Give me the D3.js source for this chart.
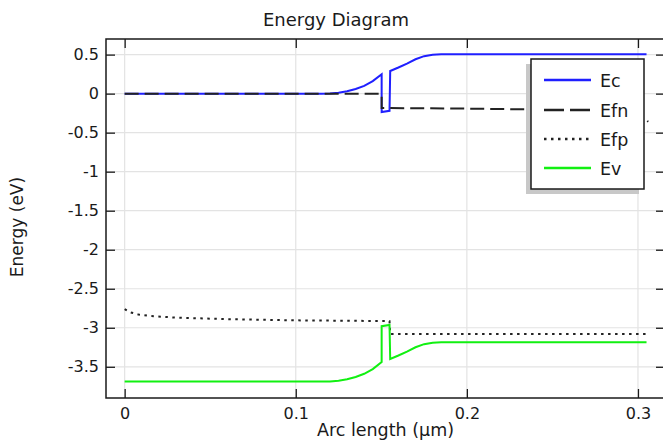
<!DOCTYPE html>
<html>
<head>
<meta charset="utf-8">
<script src="https://cdn.jsdelivr.net/npm/d3@7"></script>
<style>
  body { margin: 0; background: #fff; }
  svg { display: block; font-family: "DejaVu Sans", sans-serif; }
</style>
</head>
<body>
<svg id="chart" width="663" height="442"></svg>
<script>
// arc length (um) and energy (eV), one pair of arrays per curve
var ecX = [0, 0.05, 0.1, 0.115, 0.12, 0.125, 0.13, 0.135, 0.14, 0.145, 0.1502, 0.1502, 0.1548, 0.1552, 0.16, 0.165, 0.17, 0.175, 0.18, 0.185, 0.2, 0.25, 0.305];
var ecY = [0, 0, 0, 0, 0.003, 0.012, 0.03, 0.06, 0.1, 0.16, 0.248, -0.235, -0.22, 0.29, 0.335, 0.385, 0.44, 0.48, 0.498, 0.504, 0.505, 0.505, 0.505];

var efnX = [0, 0.05, 0.1, 0.1502, 0.1502, 0.155, 0.2, 0.25, 0.28, 0.295, 0.301, 0.306];
var efnY = [0, 0, 0, 0, -0.185, -0.185, -0.192, -0.205, -0.22, -0.235, -0.26, -0.36];

var efpX = [0, 0.003, 0.008, 0.015, 0.03, 0.06, 0.1, 0.13, 0.1548, 0.1552, 0.2, 0.25, 0.305];
var efpY = [-2.76, -2.8, -2.83, -2.85, -2.87, -2.89, -2.905, -2.91, -2.915, -3.08, -3.08, -3.08, -3.08];

var evX = [0, 0.05, 0.1, 0.115, 0.12, 0.125, 0.13, 0.135, 0.14, 0.145, 0.1502, 0.1502, 0.1548, 0.1552, 0.16, 0.165, 0.17, 0.175, 0.18, 0.185, 0.2, 0.25, 0.305];
var evY = [-3.69, -3.69, -3.69, -3.69, -3.687, -3.678, -3.66, -3.63, -3.59, -3.53, -3.44, -2.98, -2.965, -3.40, -3.355, -3.305, -3.25, -3.21, -3.192, -3.186, -3.185, -3.185, -3.185];

var xTicks = [0, 0.1, 0.2, 0.3];
var yTicks = [0.5, 0, -0.5, -1, -1.5, -2, -2.5, -3, -3.5];

var seriesNames = ['Ec', 'Efn', 'Efp', 'Ev'];
var seriesColors = ['#1f1fff', '#222', '#222', '#11f011'];
var seriesDash = [null, '14,6', '2.5,4.5', null];
var legendDash = [null, '20,6', '2.5,4.5', null];

var svg = d3.select('#chart');
var plotLeft = 106, plotRight = 665, plotTop = 39, plotBottom = 398;

var x = d3.scaleLinear().domain([-0.0109, 0.3158]).range([plotLeft, plotRight]);
var y = d3.scaleLinear().domain([-3.9, 0.7]).range([plotBottom, plotTop]);

svg.append('rect').attr('width', 663).attr('height', 442).attr('fill', '#fff');

// grid
svg.append('g').selectAll('line')
    .data(xTicks)
    .enter()
    .append('line')
    .attr('x1', function(d){ return x(d); })
    .attr('x2', function(d){ return x(d); })
    .attr('y1', plotTop)
    .attr('y2', plotBottom)
    .style('stroke', '#e3e3e3')
    .style('stroke-width', 1.2);

svg.append('g').selectAll('line')
    .data(yTicks)
    .enter()
    .append('line')
    .attr('x1', plotLeft)
    .attr('x2', plotRight)
    .attr('y1', function(d){ return y(d); })
    .attr('y2', function(d){ return y(d); })
    .style('stroke', '#e3e3e3')
    .style('stroke-width', 1.2);

// curves
svg.append('clipPath').attr('id', 'plotclip')
    .append('rect').attr('x', plotLeft).attr('y', plotTop)
    .attr('width', plotRight - plotLeft).attr('height', plotBottom - plotTop);

var allX = [ecX, efnX, efpX, evX];
var allY = [ecY, efnY, efpY, evY];

var line = d3.line()
    .x(function(d){ return x(d[0]); })
    .y(function(d){ return y(d[1]); });

var curves = svg.append('g').attr('clip-path', 'url(#plotclip)');
seriesNames.forEach(function(name, i){
    var pts = allX[i].map(function(v, j){ return [v, allY[i][j]]; });
    curves.append('path')
        .attr('d', line(pts))
        .style('fill', 'none')
        .style('stroke', seriesColors[i])
        .style('stroke-width', 2)
        .style('stroke-dasharray', seriesDash[i]);
});

// axes, ticks pointing inwards
function styleAxis(g){
    g.select('.domain').remove();
    g.selectAll('.tick line').style('stroke', '#1a1a1a').style('stroke-width', 1.3);
    g.selectAll('text').style('font-family', '"DejaVu Sans", sans-serif').style('font-size', '16px').style('fill', '#1a1a1a');
}

svg.append('g')
    .attr('transform', 'translate(' + plotLeft + ',0)')
    .call(d3.axisLeft(y).tickValues(yTicks).tickSizeInner(-9).tickSizeOuter(0).tickPadding(7)
        .tickFormat(function(d){ return String(d); }))
    .call(styleAxis);

svg.append('g')
    .attr('transform', 'translate(' + plotRight + ',0)')
    .call(d3.axisRight(y).tickValues(yTicks).tickSizeInner(-9).tickSizeOuter(0).tickFormat(''))
    .call(styleAxis);

svg.append('g')
    .attr('transform', 'translate(0,' + plotBottom + ')')
    .call(d3.axisBottom(x).tickValues(xTicks).tickSizeInner(-9).tickSizeOuter(0).tickPadding(10)
        .tickFormat(function(d){ return String(d); }))
    .call(styleAxis);

svg.append('g')
    .attr('transform', 'translate(0,' + plotTop + ')')
    .call(d3.axisTop(x).tickValues(xTicks).tickSizeInner(-9).tickSizeOuter(0).tickFormat(''))
    .call(styleAxis);

svg.append('rect')
    .attr('x', plotLeft).attr('y', plotTop)
    .attr('width', plotRight - plotLeft).attr('height', plotBottom - plotTop)
    .style('fill', 'none')
    .style('stroke', '#1a1a1a')
    .style('stroke-width', 1.5);

// titles
svg.append('text')
    .attr('x', 336).attr('y', 26)
    .attr('text-anchor', 'middle')
    .style('font-size', '18px').style('fill', '#1a1a1a')
    .text('Energy Diagram');

svg.append('text')
    .attr('x', (plotLeft + plotRight) / 2).attr('y', 436)
    .attr('text-anchor', 'middle')
    .style('font-size', '17.5px').style('fill', '#1a1a1a')
    .text('Arc length (µm)');

svg.append('text')
    .attr('transform', 'translate(23,227) rotate(-90)')
    .attr('text-anchor', 'middle')
    .style('font-size', '17px').style('fill', '#1a1a1a')
    .text('Energy (eV)');

// legend
var lg = svg.append('g');
lg.append('rect')
    .attr('x', 526).attr('y', 64).attr('width', 113).attr('height', 130)
    .style('fill', '#c8c8c8');
lg.append('rect')
    .attr('x', 531).attr('y', 59).attr('width', 113).attr('height', 130)
    .style('fill', '#fff')
    .style('stroke', '#1a1a1a')
    .style('stroke-width', 1.5);

var rows = lg.selectAll('g.row')
    .data(seriesNames)
    .enter()
    .append('g')
    .attr('transform', function(d, i){ return 'translate(0,' + [80, 110, 139, 168][i] + ')'; });

rows.append('line')
    .attr('x1', 544).attr('x2', 591)
    .attr('y1', 0).attr('y2', 0)
    .style('stroke', function(d, i){ return seriesColors[i]; })
    .style('stroke-width', 2.5)
    .style('stroke-dasharray', function(d, i){ return legendDash[i]; });

rows.append('text')
    .attr('x', 600).attr('y', 6.5)
    .style('font-size', '17.5px').style('fill', '#1a1a1a')
    .text(function(d){ return d; });
</script>
</body>
</html>
